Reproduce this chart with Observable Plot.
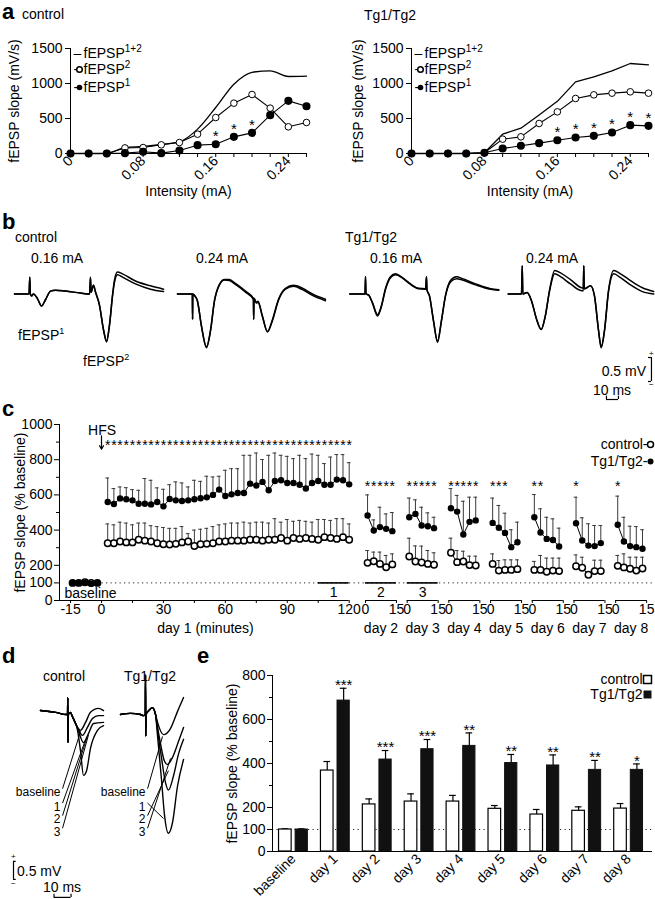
<!DOCTYPE html>
<html><head><meta charset="utf-8">
<script src="https://cdn.jsdelivr.net/npm/d3@7"></script>
<script src="https://cdn.jsdelivr.net/npm/@observablehq/plot@0.6"></script>
<style>
html,body{margin:0;padding:0;background:#fff;}
#fig{position:relative;width:655px;height:899px;overflow:hidden;background:#fff;color:#000;font-family:"Liberation Sans",Arial,Helvetica,sans-serif;}
#fig sup{font-size:9px;}
</style></head>
<body><div id="fig"></div>
<script>
// ================= DATA =================
// Panel a: input/output curves
const intensity = [0,0.02,0.04,0.06,0.08,0.10,0.12,0.14,0.16,0.18,0.20,0.22,0.24,0.26];
const intensityLabels = [0,0.08,0.16,0.24];
const aYTicks = [0,500,1000,1500];
const ctrlSum = [0,0,0,85,100,130,167,348,657,990,1160,1180,1100,1105];
const ctrlF2  = [0,0,0,80,85,124,157,276,514,719,843,648,381,443];
const ctrlF1  = [0,0,0,5,25,5,43,119,133,238,295,548,752,676];
const ctrlStarsAt = [0.16,0.18,0.20];
const tgSum = [0,0,0,0,10,276,362,550,745,1024,1095,1181,1286,1267];
const tgF2  = [0,0,0,0,10,205,238,429,595,786,838,862,881,862];
const tgF1  = [0,0,0,0,10,71,110,148,190,229,252,300,405,395];
const tgStarsAt = [0.16,0.18,0.20,0.22,0.24,0.26];
const aLegend = ["fEPSP^1+2","fEPSP^2","fEPSP^1"];

// Panel b: paired-pulse traces [ms, mV line 1, mV line 2]
const bCtrl016 = [[0,0,0],[12.1,0,0],[12.75,0.35,0.35],[13.2,0,0],[14.2,-0.04,-0.04],[15.8,0,0],[19.2,-0.1,-0.1],[22.5,-0.25,-0.25],[25.8,-0.12,-0.12],[30,0.06,0.06],[34.2,0.08,0.08],[42.5,0.06,0.06],[55,0.02,0.02],[62.6,0,0],[63.3,0.35,0.35],[63.8,0.04,0.04],[65.8,0.18,0.18],[67.5,0.04,0.04],[70.8,-0.23,-0.23],[74.2,-0.75,-0.75],[76.7,-1.0,-0.98],[79.2,-0.65,-0.63],[81.7,-0.02,-0.04],[83.3,0.29,0.24],[85.8,0.46,0.40],[90,0.42,0.35],[100.8,0.27,0.21],[113.3,0.17,0.10],[124.2,0.10,0.05]];
const bCtrl024 = [[0,0,0],[12.4,0,0],[12.6,-0.53,-0.53],[12.8,0,0],[14.2,-0.03,-0.03],[16.7,-0.15,-0.15],[20,-0.67,-0.67],[24.2,-1.12,-1.1],[27.5,-0.78,-0.76],[30.8,-0.15,-0.15],[35,0.2,0.19],[39.2,0.3,0.29],[43.3,0.3,0.28],[48.3,0.22,0.2],[56.7,0.06,0.04],[63.3,-0.09,-0.11],[63.5,-0.53,-0.53],[63.8,-0.09,-0.11],[65.8,-0.17,-0.19],[67.1,-0.15,-0.17],[70.8,-0.46,-0.47],[75,-0.78,-0.79],[79.2,-0.53,-0.55],[84.2,-0.11,-0.13],[90,0.12,0.1],[96.7,0.18,0.16],[104.2,0.12,0.09],[112.5,0,-0.03],[123.3,-0.11,-0.14]];
const bTg016 = [[0,0,0],[12.7,0,0],[13.1,0.36,0.36],[13.5,0,0],[15.6,-0.02,-0.02],[18.9,-0.18,-0.19],[23.1,-0.43,-0.46],[26.4,-0.24,-0.26],[29.7,0.11,0.09],[33.9,0.36,0.34],[38.1,0.42,0.40],[43.9,0.34,0.33],[50.6,0.21,0.2],[57.2,0.12,0.11],[63.2,0.11,0.10],[63.9,0.36,0.36],[64.3,0.09,0.09],[66.4,-0.04,-0.04],[69.8,-0.56,-0.57],[73.1,-1.01,-0.98],[76.4,-0.56,-0.55],[79.7,-0.04,-0.05],[83.9,0.28,0.25],[88.9,0.36,0.32],[93.9,0.32,0.29],[104.8,0.21,0.19],[117.3,0.11,0.1],[124.2,0.09,0.08]];
const bTg024 = [[0,0,0],[11.1,0,0],[11.7,0.59,0.59],[12.2,0,0],[15.8,0.03,0.03],[19.4,-0.14,-0.14],[23.6,-0.52,-0.52],[27.5,-0.74,-0.74],[31,-0.45,-0.45],[34.4,0.07,0.05],[38.8,0.49,0.42],[43.6,0.44,0.36],[51.9,0.3,0.21],[61.1,0.13,0.07],[62.6,0.12,0.07],[63,0.59,0.59],[63.4,0.11,0.11],[68.6,0.17,0.17],[71.9,-0.04,-0.04],[75.3,-0.76,-0.76],[77.5,-1.12,-1.1],[80.3,-0.76,-0.75],[83.6,0.07,0.05],[88,0.49,0.42],[93.6,0.42,0.34],[101.9,0.28,0.19],[111.9,0.13,0.05],[121.3,0.05,0]];
const bScaleMs = 10, bScaleMv = 0.5;

// Panel c: LTP time course (% baseline)
const baseTimes = [-14,-11,-8,-5,-2];
const baseCtrl = [100,100,104,100,100];
const baseTg = [100,100,100,95,100];
const day1Times = [3,6,9,12,15,18,21,24,27,30,33,36,39,42,45,48,51,54,57,60,63,66,69,72,75,78,81,84,87,90,93,96,99,102,105,108,111,114,117,120];
const tgDay1Mean  = [560,548,580,575,569,550,550,546,560,535,577,569,565,569,575,581,586,600,630,594,603,611,611,664,653,674,626,679,683,668,668,658,636,668,679,658,658,687,683,660];
const tgDay1Upper = [696,636,645,641,630,626,693,683,640,632,658,674,668,645,683,677,706,702,706,740,749,749,825,825,838,801,825,838,825,819,806,825,806,832,825,778,815,829,829,783];
const ctrlDay1Mean  = [325,325,335,330,330,345,340,335,325,320,318,322,330,335,310,320,322,325,335,335,340,340,340,345,345,340,345,345,355,340,355,350,355,350,345,360,355,350,360,345];
const ctrlDay1Upper = [435,430,445,440,430,440,440,425,420,415,410,410,420,380,400,405,410,420,430,435,440,440,445,440,445,445,440,465,445,460,450,455,450,445,460,460,455,465,465,435];
const dayNames = ["day 2","day 3","day 4","day 5","day 6","day 7","day 8"];
const daySampleMin = [1,4,7,10,13];
const tgDaysMean = [[483,398,417,407,394],[473,492,426,422,411],[524,505,375,447,455],[441,413,384,303,331],[473,386,350,344,307],[439,341,312,309,326],[430,335,309,303,294]];
const tgDaysUpper = [[600,458,530,492,500],[582,572,530,498,473],[636,597,564,587,587],[582,540,496,402,445],[602,521,473,464,411],[587,470,436,426,426],[593,473,422,420,402]];
const ctrlDaysMean = [[214,223,208,189,205],[250,222,216,208,203],[271,218,222,201,199],[208,170,174,174,178],[174,174,163,170,167],[195,186,146,167,167],[197,188,180,170,182]];
const ctrlDaysUpper = [[284,275,275,256,265],[354,310,309,284,271],[354,284,280,252,252],[265,227,231,231,231],[222,256,241,241,241],[259,246,146,229,229],[256,265,246,246,246]];
const dayStars = [5,5,5,3,2,1,1];
const cYTicks = [0,100,200,400,600,800,1000];
const cYMinor = [300,500,700,900];
const day1Ticks = [-15,0,30,60,90,120];
const day1Minor = [15,45,75,105];

// Panel d: superimposed traces (baseline, 1, 2, 3) [ms, mV]
const dCtrlPre = [[0,0.11],[8.8,0.06],[15.3,0],[15.9,0],[16.05,0.47],[16.2,-0.78],[16.4,0],[17.6,0.06],[18.8,-0.06]];
const dCtrlTails = {
  "baseline": [[21.8,-0.36],[23.5,-0.44],[26.5,-0.22],[29.4,0.06],[34.1,0.17],[37.1,0.11]],
  "3": [[21.8,-0.36],[24.7,-0.58],[27.6,-0.36],[30.6,-0.11],[34.1,-0.03],[37.1,-0.03]],
  "2": [[21.8,-0.38],[25.3,-0.78],[28.2,-0.53],[31.2,-0.25],[37.1,-0.22]],
  "1": [[21.8,-0.44],[23.5,-1.0],[25.3,-1.69],[27.1,-1.56],[29.4,-0.94],[33.5,-0.44],[37.1,-0.31]]
};
const dTgPre = [[0,0],[5.9,0.03],[11.8,0],[13.5,-0.03],[14.6,0],[14.7,1.1],[14.85,-0.6],[15.0,0],[16.5,0.1],[18.8,0.19],[20.6,0]];
const dTgTails = {
  "baseline": [[21.8,-0.22],[25.3,-0.56],[29.4,-0.39],[33.5,0.08],[37.1,0.47]],
  "3": [[21.8,-0.35],[23.5,-0.8],[25.9,-1.3],[27.6,-1.39],[30.6,-1.19],[34.1,-0.75],[37.1,-0.36]],
  "2": [[21.8,-0.45],[24.1,-1.2],[26.5,-1.9],[28.2,-2.1],[31.2,-1.7],[34.1,-1.1],[37.1,-0.69]],
  "1": [[21.8,-0.6],[24.1,-1.8],[25.9,-2.8],[28.2,-3.3],[30.6,-3.0],[33.5,-2.0],[37.1,-1.25]]
};
const dTraceNames = ["baseline","1","2","3"];

// Panel e: summary bars
const eGroups = ["baseline","day 1","day 2","day 3","day 4","day 5","day 6","day 7","day 8"];
const eCtrl    = [100,368,214,227,227,194,168,185,195];
const eCtrlErr = [3,41,25,35,28,15,23,18,23];
const eTg      = [100,686,418,465,480,402,391,371,371];
const eTgErr   = [3,56,41,44,59,39,48,43,27];
const eStars   = ["","***","***","***","**","**","**","**","*"];
const eYTicks = [0,100,200,400,600,800];
const eYMinor = [300,500,700];

// ================= LAYOUT =================
const FONT = '"Liberation Sans", Arial, Helvetica, sans-serif';
const STYLE = {fontFamily: FONT, fontSize: "14px", background: "transparent", overflow: "visible", color: "#000"};
const fig = document.getElementById("fig");
const plain = d => String(d);
function supify(svg) {
  d3.select(svg).selectAll("text").each(function () {
    const s = this.textContent;
    if (!s.includes("^")) return;
    const [a, b] = s.split("^");
    this.textContent = a;
    d3.select(this).append("tspan").attr("dy", -6).attr("font-size", 10).text(b);
  });
  return svg;
}
function place(svg, left, top) {
  svg.style.position = "absolute"; svg.style.left = left + "px"; svg.style.top = top + "px";
  svg.style.maxWidth = "none";
  fig.appendChild(svg);
}
function label(html, x, cy, {size = 14, bold = false, anchor = "start"} = {}) {
  const d = document.createElement("div");
  d.innerHTML = html;
  Object.assign(d.style, {position: "absolute", top: (cy - size * 0.6) + "px", fontSize: size + "px",
    lineHeight: (size * 1.2) + "px", fontWeight: bold ? "bold" : "normal", whiteSpace: "nowrap"});
  if (anchor === "start") d.style.left = x + "px";
  else if (anchor === "end") d.style.right = (655 - x) + "px";
  else { d.style.left = x + "px"; d.style.transform = "translateX(-50%)"; }
  fig.appendChild(d);
}

// ---------- panel a ----------
function panelA(F1, F2, SUM, starsAt, cfg) {
  const rows = intensity.map((x, i) => ({x, f1: F1[i], f2: F2[i], s: SUM[i]}));
  const labelled = new Set(intensityLabels);
  const TL = {frameAnchor: "top-left", textAnchor: "start", lineAnchor: "middle"};
  return supify(Plot.plot({
    width: cfg.width, height: 205,
    marginLeft: cfg.ml, marginRight: cfg.mr, marginTop: 48, marginBottom: 52,
    style: STYLE,
    x: {domain: [0, 0.26]}, y: {domain: [0, 1500]},
    marks: [
      Plot.ruleY([0]), Plot.ruleX([0]),
      Plot.axisX({ticks: intensity, tickSize: 4, tickPadding: 1, tickRotate: -45,
        tickFormat: d => labelled.has(d) ? String(d) : "", label: null}),
      Plot.axisY({ticks: aYTicks, tickSize: 5, tickPadding: 3, tickFormat: plain, label: null}),
      Plot.text(["fEPSP slope (mV/s)"], {frameAnchor: "left", dx: cfg.ylabDx, rotate: -90, textAnchor: "middle", lineAnchor: "middle"}),
      Plot.text(["Intensity (mA)"], {frameAnchor: "bottom", dy: 38, textAnchor: "middle", lineAnchor: "middle"}),
      Plot.line(rows, {x: "x", y: "s", curve: cfg.curve, strokeWidth: 1.3}),
      Plot.line(rows, {x: "x", y: "f2", strokeWidth: 1.1}),
      Plot.line(rows, {x: "x", y: "f1", strokeWidth: 1.1}),
      Plot.dot(rows, {x: "x", y: "f2", r: 3.3, fill: "white", stroke: "black", strokeWidth: 1}),
      Plot.dot(rows, {x: "x", y: "f1", r: 3.3, fill: "black", stroke: "black"}),
      Plot.text(rows.filter(r => starsAt.includes(r.x)), {x: "x", y: "f1", text: () => "*", dy: -8, fontSize: 15}),
      Plot.text(["–"], {...TL, dx: 3, dy: 5}),
      Plot.text([aLegend[0]], {...TL, dx: 13, dy: 5}),
      Plot.text(["-"], {...TL, dx: 3, dy: 21}),
      Plot.dot([0], {frameAnchor: "top-left", dx: 9, dy: 21, r: 2.8, fill: "white", stroke: "black"}),
      Plot.text([aLegend[1]], {...TL, dx: 13, dy: 21}),
      Plot.text(["-"], {...TL, dx: 3, dy: 39}),
      Plot.dot([0], {frameAnchor: "top-left", dx: 9, dy: 39, r: 2.8, fill: "black"}),
      Plot.text([aLegend[2]], {...TL, dx: 13, dy: 39})
    ]
  }));
}
place(panelA(ctrlF1, ctrlF2, ctrlSum, ctrlStarsAt, {width: 320, ml: 70, mr: 14, curve: "monotone-x", ylabDx: -56}), 0, 0);
place(panelA(tgF1, tgF2, tgSum, tgStarsAt, {width: 325, ml: 81, mr: 7, curve: "linear", ylabDx: -53}), 330, 0);
label("a", 2, 12, {size: 22, bold: true});
label("control", 22, 14);
label("Tg1/Tg2", 364, 15);

// ---------- panel b ----------
function panelB() {
  const W = 655, H = 175, pxMs = 1.2, pxMv = 48, x0px = 14, baseY = 65.5;
  const sweeps = [bCtrl016, bCtrl024, bTg016, bTg024];
  const offsets = [0, 135.8, 279.4, 411.4];
  const rows = [];
  sweeps.forEach((sw, s) => sw.forEach(([t, v1, v2]) => rows.push({T: offsets[s] + t, v1, v2, s})));
  const sc = {t: 530.8, v: -1.823, ht: 493.3, hv: -2.198};
  return Plot.plot({
    width: W, height: H, margin: 0, style: STYLE,
    x: {domain: [-x0px / pxMs, (W - x0px) / pxMs], axis: null},
    y: {domain: [-(H - baseY) / pxMv, baseY / pxMv], axis: null},
    marks: [
      Plot.line(rows, {x: "T", y: "v2", z: "s", curve: "monotone-x", strokeWidth: 1.5}),
      Plot.line(rows, {x: "T", y: "v1", z: "s", curve: "monotone-x", strokeWidth: 1.5}),
      Plot.ruleX([sc], {x: "t", y1: "v", y2: d => d.v + bScaleMv, strokeWidth: 1.2}),
      Plot.ruleY([sc.v, sc.v + bScaleMv], {y: d => d, x1: sc.t - 2.5, x2: sc.t, strokeWidth: 1.2}),
      Plot.ruleY([sc], {y: "hv", x1: "ht", x2: d => d.ht + bScaleMs, strokeWidth: 1.2}),
      Plot.ruleX([sc.ht, sc.ht + bScaleMs], {x: d => d, y1: sc.hv, y2: sc.hv + 0.07, strokeWidth: 1.2})
    ]
  });
}
place(panelB(), 0, 228);
label("b", 2, 222, {size: 22, bold: true});
label("control", 15, 237);
label("0.16 mA", 31, 258);
label("0.24 mA", 196, 258);
label("Tg1/Tg2", 345, 237);
label("0.16 mA", 370, 258);
label("0.24 mA", 526, 258);
label("fEPSP<sup>1</sup>", 18, 331);
label("fEPSP<sup>2</sup>", 83, 357);
label("0.5 mV", 646, 371, {anchor: "end"});
label("+", 649, 354, {size: 8});
label("−", 649, 385, {size: 8});
label("10 ms", 612, 390, {anchor: "middle"});

// ---------- panel c ----------
function panelC() {
  const W = 655, H = 235;
  const x0 = -20.35, x1 = 268.4;
  const day2Start = 127.9, dayGap = 20.2;
  const offs = dayNames.map((_, k) => day2Start + k * dayGap);
  const tg = [], ct = [];
  day1Times.forEach((t, i) => {
    tg.push({t, m: tgDay1Mean[i], u: tgDay1Upper[i], z: 1, star: true});
    ct.push({t, m: ctrlDay1Mean[i], u: ctrlDay1Upper[i], z: 1});
  });
  offs.forEach((o, k) => daySampleMin.forEach((mn, j) => {
    tg.push({t: o + mn, m: tgDaysMean[k][j], u: tgDaysUpper[k][j], z: k + 2, star: j < dayStars[k]});
    ct.push({t: o + mn, m: ctrlDaysMean[k][j], u: ctrlDaysUpper[k][j], z: k + 2});
  }));
  const base = baseTimes.map((t, i) => ({t, c: baseCtrl[i], g: baseTg[i]}));
  const segs = [{a: x0, b: 120}, ...offs.map(o => ({a: o, b: o + 15}))];
  const major = [...day1Ticks.map(v => ({p: v, l: String(v)})), ...offs.flatMap(o => [{p: o, l: "0"}, {p: o + 15, l: "15"}])];
  const tmap = new Map(major.map(d => [d.p, d.l]));
  const dayLabs = [{x: 50.4, l: "day 1 (minutes)"}, ...offs.map((o, k) => ({x: o + 7.5, l: dayNames[k]}))];
  const sess = [{a: 105, b: 120, l: "1"}, {a: offs[0], b: offs[0] + 15, l: "2"}, {a: offs[1], b: offs[1] + 15, l: "3"}];
  const TR = {frameAnchor: "top-right", textAnchor: "end", lineAnchor: "middle"};
  const ebStroke = "#3a3a3a";
  return Plot.plot({
    width: W, height: H, marginLeft: 59, marginRight: 0, marginTop: 19, marginBottom: 40,
    style: STYLE,
    x: {domain: [x0, x1]}, y: {domain: [0, 1000]},
    marks: [
      Plot.ruleY([100], {x1: -15, x2: x1, stroke: "#222", strokeDasharray: "1.2,3.3"}),
      Plot.ruleY(sess, {x1: "a", x2: "b", y: 100, strokeWidth: 1.6}),
      Plot.text(sess, {x: d => (d.a + d.b) / 2, y: 45, text: "l"}),
      Plot.text(["baseline"], {x: -5.3, y: 40}),
      Plot.ruleX([x0], {y1: 0, y2: 1000}),
      Plot.axisY({ticks: cYTicks, tickSize: 5, tickPadding: 2, tickFormat: plain, label: null}),
      Plot.axisY({ticks: cYMinor, tickSize: 3, tickFormat: () => "", label: null}),
      Plot.ruleY(segs, {x1: "a", x2: "b", y: 0}),
      Plot.axisX({ticks: major.map(d => d.p), tickFormat: d => tmap.get(d), tickSize: 3, tickPadding: 1, label: null}),
      Plot.axisX({ticks: day1Minor, tickFormat: () => "", tickSize: 3, label: null}),
      Plot.text(dayLabs, {x: "x", frameAnchor: "bottom", dy: 28, text: "l", lineAnchor: "middle"}),
      Plot.text(["fEPSP slope (% baseline)"], {frameAnchor: "left", dx: -39, rotate: -90, textAnchor: "middle", lineAnchor: "middle"}),
      Plot.text(["HFS"], {x: 0.3, y: 968}),
      Plot.arrow([0], {x1: 0, x2: 0, y1: 935, y2: 860, headLength: 5, strokeWidth: 1.2}),
      Plot.line(ct, {x: "t", y: "m", z: "z", strokeWidth: 1}),
      Plot.line(tg, {x: "t", y: "m", z: "z", strokeWidth: 1}),
      Plot.ruleX(ct, {x: "t", y1: "m", y2: "u", stroke: ebStroke}),
      Plot.ruleY(ct, {y: "u", x1: d => d.t - 0.9, x2: d => d.t + 0.9, stroke: ebStroke}),
      Plot.ruleX(tg, {x: "t", y1: "m", y2: "u", stroke: ebStroke}),
      Plot.ruleY(tg, {y: "u", x1: d => d.t - 0.9, x2: d => d.t + 0.9, stroke: ebStroke}),
      Plot.dot(base, {x: "t", y: "c", r: 3.2, fill: "white", stroke: "black"}),
      Plot.dot(base, {x: "t", y: "g", r: 3.2, fill: "black"}),
      Plot.dot(ct, {x: "t", y: "m", r: 3.2, fill: "white", stroke: "black"}),
      Plot.dot(tg, {x: "t", y: "m", r: 3.2, fill: "black"}),
      Plot.text(tg.filter(d => d.star && d.z === 1), {x: "t", y: () => 880, text: () => "*", fontSize: 14}),
      Plot.text(tg.filter(d => d.star && d.z > 1), {x: "t", y: () => 645, text: () => "*", fontSize: 14}),
      Plot.text(["control-"], {...TR, dx: -8, dy: 20}),
      Plot.dot([0], {frameAnchor: "top-right", dx: -5, dy: 20, r: 3, fill: "white", stroke: "black"}),
      Plot.text(["Tg1/Tg2-"], {...TR, dx: -8, dy: 37}),
      Plot.dot([0], {frameAnchor: "top-right", dx: -5, dy: 37, r: 3, fill: "black"})
    ]
  });
}
place(panelC(), 0, 405);
label("c", 2, 409, {size: 22, bold: true});

// ---------- panel d ----------
function panelD() {
  const W = 218, H = 269, pxMs = 1.7, pxMv = 36, baseY = 84;
  const groups = [{pre: dCtrlPre, tails: dCtrlTails, off: 23.53, g: "c"}, {pre: dTgPre, tails: dTgTails, off: 70.59, g: "t"}];
  const rows = [];
  groups.forEach(G => dTraceNames.forEach(n => {
    [...G.pre, ...G.tails[n]].forEach(([t, v]) => rows.push({T: G.off + t, v, id: G.g + n}));
  }));
  const labY = [-2.17, -2.56, -2.91, -3.26];
  const labs = [];
  [35.3, 85.3].forEach(x => dTraceNames.forEach((n, i) => labs.push({x, y: labY[i], l: n})));
  const leaders = [
    {x1: 36.5, y1: -2.06, x2: 47.1, y2: -0.47}, {x1: 36.5, y1: -2.46, x2: 49.4, y2: -0.78},
    {x1: 36.5, y1: -2.81, x2: 50.6, y2: -0.67}, {x1: 36.5, y1: -3.16, x2: 51.8, y2: -0.56},
    {x1: 86.5, y1: -2.06, x2: 95.3, y2: -0.61}, {x1: 86.5, y1: -2.46, x2: 95.9, y2: -2.89},
    {x1: 86.5, y1: -2.81, x2: 98.8, y2: -1.56}, {x1: 86.5, y1: -3.16, x2: 100, y2: -1.22}
  ];
  const sc = {t: 7.65, v: -4.58, ht: 31.5, hv: -5.08};
  return Plot.plot({
    width: W, height: H, margin: 0, style: STYLE,
    x: {domain: [0, W / pxMs], axis: null},
    y: {domain: [-(H - baseY) / pxMv, baseY / pxMv], axis: null},
    marks: [
      Plot.line(rows, {x: "T", y: "v", z: "id", curve: "monotone-x", strokeWidth: 1.4, stroke: "black"}),
      Plot.link(leaders, {x1: "x1", y1: "y1", x2: "x2", y2: "y2", strokeWidth: 1, stroke: "black"}),
      Plot.text(labs, {x: "x", y: "y", text: "l", textAnchor: "end", fontSize: 12, fill: "black"}),
      Plot.ruleX([sc], {x: "t", y1: "v", y2: d => d.v + bScaleMv, strokeWidth: 1.2}),
      Plot.ruleY([sc.v, sc.v + bScaleMv], {y: d => d, x1: sc.t, x2: sc.t + 1.6, strokeWidth: 1.2}),
      Plot.ruleY([sc], {y: "hv", x1: "ht", x2: d => d.ht + bScaleMs, strokeWidth: 1.2}),
      Plot.ruleX([sc.ht, sc.ht + bScaleMs], {x: d => d, y1: sc.hv, y2: sc.hv + 0.09, strokeWidth: 1.2})
    ]
  });
}
place(panelD(), 0, 630);
label("d", 2, 656, {size: 22, bold: true});
label("control", 43, 676);
label("Tg1/Tg2", 124, 676);
label("0.5 mV", 17, 871);
label("+", 11, 857, {size: 8});
label("−", 11, 884, {size: 8});
label("10 ms", 62, 887, {anchor: "middle"});

// ---------- panel e ----------
function panelE() {
  const rows = eGroups.map((g, i) => ({i, g, c: eCtrl[i], ce: eCtrlErr[i], t: eTg[i], te: eTgErr[i], s: eStars[i]}));
  const cB = [0.156, 0.457], tB = [0.552, 0.844];
  const cc = (cB[0] + cB[1]) / 2, tc = (tB[0] + tB[1]) / 2, cap = 0.08;
  const TR = {frameAnchor: "top-right", textAnchor: "end", lineAnchor: "middle"};
  return Plot.plot({
    width: 435, height: 269, marginLeft: 52, marginRight: 3, marginTop: 45, marginBottom: 48,
    style: STYLE,
    x: {domain: [0, 9.07]}, y: {domain: [0, 800]},
    marks: [
      Plot.ruleY([100], {x1: 0, x2: 9.07, stroke: "#222", strokeDasharray: "1.2,3.3"}),
      Plot.ruleX(rows, {x: d => d.i + cc, y1: "c", y2: d => d.c + d.ce, strokeWidth: 1.2}),
      Plot.ruleY(rows, {y: d => d.c + d.ce, x1: d => d.i + cc - cap, x2: d => d.i + cc + cap, strokeWidth: 1.2}),
      Plot.ruleX(rows, {x: d => d.i + tc, y1: "t", y2: d => d.t + d.te, strokeWidth: 1.2}),
      Plot.ruleY(rows, {y: d => d.t + d.te, x1: d => d.i + tc - cap, x2: d => d.i + tc + cap, strokeWidth: 1.2}),
      Plot.rect(rows, {x1: d => d.i + cB[0], x2: d => d.i + cB[1], y1: 0, y2: "c", fill: "white", stroke: "black", strokeWidth: 1.2}),
      Plot.rect(rows, {x1: d => d.i + tB[0], x2: d => d.i + tB[1], y1: 0, y2: "t", fill: "#111", stroke: "#111"}),
      Plot.text(rows, {x: d => d.i + tc, y: d => d.t + d.te, text: "s", dy: -3, fontSize: 15}),
      Plot.ruleX([0], {y1: 0, y2: 800}), Plot.ruleY([0], {x1: 0, x2: 9.07}),
      Plot.axisY({ticks: eYTicks, tickSize: 5, tickPadding: 2, tickFormat: plain, label: null}),
      Plot.axisY({ticks: eYMinor, tickSize: 3, tickFormat: () => "", label: null}),
      Plot.axisX({ticks: rows.map(d => d.i + 0.5), tickFormat: d => eGroups[Math.floor(d)], tickRotate: -45, tickSize: 0, tickPadding: 5, label: null}),
      Plot.text(["fEPSP slope (% baseline)"], {frameAnchor: "left", dx: -40, rotate: -90, textAnchor: "middle", lineAnchor: "middle"}),
      Plot.text(["control"], {...TR, dx: -10, dy: 4}),
      Plot.dot([0], {frameAnchor: "top-right", dx: -5, dy: 4, symbol: "square", r: 4.5, fill: "white", stroke: "black"}),
      Plot.text(["Tg1/Tg2"], {...TR, dx: -10, dy: 19}),
      Plot.dot([0], {frameAnchor: "top-right", dx: -5, dy: 19, symbol: "square", r: 4.5, fill: "#111"})
    ]
  });
}
place(panelE(), 220, 630);
label("e", 197, 656, {size: 22, bold: true});
</script>
</body></html>
